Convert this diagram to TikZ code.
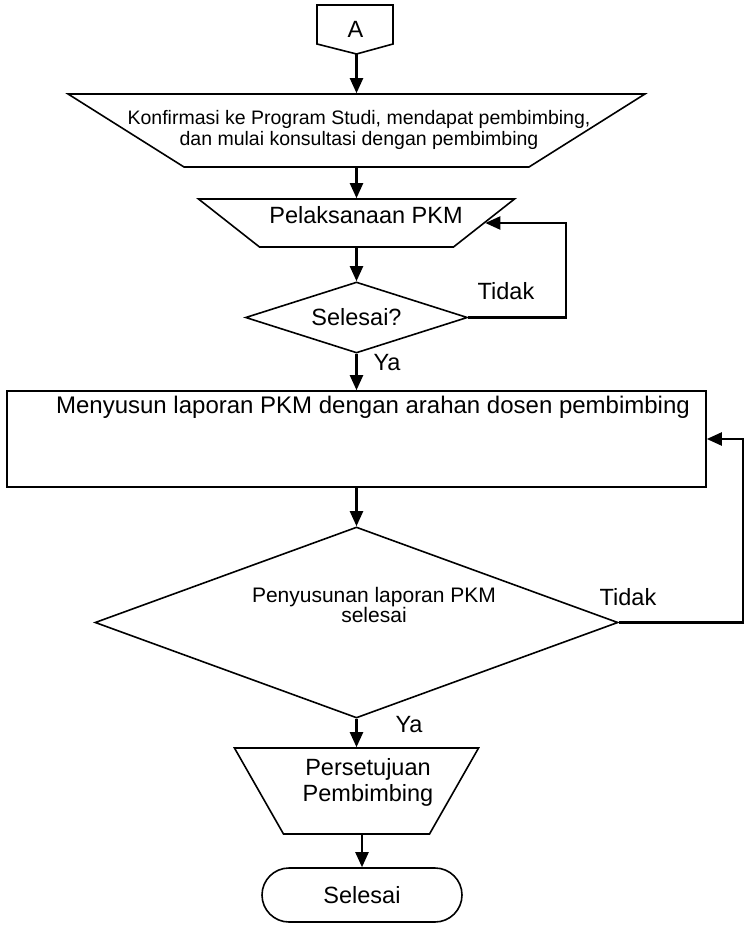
\documentclass[tikz,border=0pt]{standalone}
\usepackage{fontspec}
\setmainfont{Liberation Sans}
\usetikzlibrary{shapes, arrows.meta, positioning}

\tikzset{
  box/.style={draw, line width=1.6pt, inner sep=0pt},
  manop/.style={box, trapezium, shape border rotate=180, minimum width=0pt, minimum height=0pt},
  decide/.style={box, diamond},
  link/.style={line width=2.2pt, -{Triangle[length=15pt,width=13pt]}}
}

\begin{document}
\begin{tikzpicture}[x=1pt, y=-1pt, font=\fontsize{23.5}{26}\selectfont]
\useasboundingbox (0,0) rectangle (750,933);

\draw[line width=1.6pt] (317,5) -- (393,5) -- (393,44) -- (356.5,54) -- (317,44) -- cycle;
\node (A) at (355.5,29.5) {A};
\coordinate (Atip) at (356.5,54);

\node[manop, trapezium angle=32.2, inner xsep=172.5pt, inner ysep=36.5pt] (konf) at (356.5,130.5) {};
\node[align=center, font=\fontsize{19.5}{21}\selectfont] (konfT) at (359,130) {Konfirmasi ke Program Studi, mendapat pembimbing,\\dan mulai konsultasi dengan pembimbing};

\node[manop, trapezium angle=38.2, inner xsep=97pt, inner ysep=24pt] (pel) at (356.5,223) {};
\node (pelT) at (366,215) {Pelaksanaan PKM};

\node[decide, aspect=3, minimum width=222pt, minimum height=71pt] (d1) at (356.5,317.5) {Selesai?};

\node[box, minimum width=699pt, minimum height=96pt] (susun) at (356.5,439) {};
\node[anchor=base, font=\fontsize{24}{26}\selectfont] (susunT) at (373,413) {Menyusun laporan PKM dengan arahan dosen pembimbing};

\node[decide, minimum width=523pt, minimum height=191pt] (d2) at (356.5,622.5) {};
\node[align=center, font=\fontsize{21}{20}\selectfont] (d2T) at (374,605) {Penyusunan laporan PKM\\selesai};

\node[manop, trapezium angle=60.3, inner xsep=73pt, inner ysep=43pt] (setuju) at (356.5,791) {};
\node[align=center] (setujuT) at (368,782.5) {Persetujuan\\Pembimbing};

\node[draw, line width=1.6pt, rounded corners=27pt, minimum width=200pt, minimum height=54pt] (selesai) at (362,895) {Selesai};

\draw[link] (Atip) -- (konf.north);
\draw[link] (konf.south) -- (pel.north);
\draw[link] (pel.south) -- (d1.north);
\draw[link] (d1.east) -- ++(98,0) |- (pel);
\draw[link] (d1.south) -- (susun.north);
\draw[link] (susun.south) -- (d2.north);
\draw[link] (d2.east) -- ++(124,0) |- (susun);
\draw[link] (d2.south) -- (setuju.north);
\draw[link] (setuju.south -| selesai.north) -- (selesai.north);

\node (tidak1) at (506,291.5) {Tidak};
\node (ya1) at (387,363) {Ya};
\node (tidak2) at (628,597) {Tidak};
\node (ya2) at (409,725) {Ya};
\end{tikzpicture}
\end{document}
